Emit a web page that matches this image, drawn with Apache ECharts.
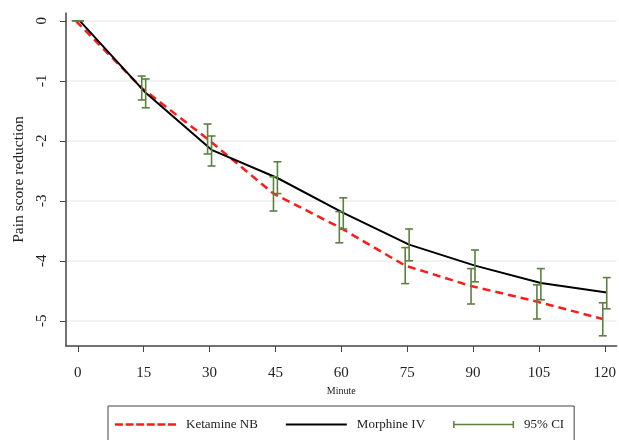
<!DOCTYPE html>
<html>
<head>
<meta charset="utf-8">
<script src="https://cdn.jsdelivr.net/npm/echarts@6/dist/echarts.min.js"></script>
<style>html,body{margin:0;padding:0;background:#fff}#c{width:619px;height:440px}</style>
</head>
<body>
<div id="c"></div>
<script>
const minutes = [0, 15, 30, 45, 60, 75, 90, 105, 120];
const ketamine = [0, -1.12, -1.97, -2.88, -3.44, -4.08, -4.42, -4.68, -4.97];
const ketamineLo = [0, -1.32, -2.22, -3.17, -3.70, -4.38, -4.72, -4.97, -5.25];
const ketamineHi = [0, -0.92, -1.72, -2.60, -3.18, -3.78, -4.13, -4.40, -4.70];
const morphine = [0, -1.20, -2.15, -2.62, -3.20, -3.73, -4.08, -4.37, -4.53];
const morphineLo = [0, -1.45, -2.42, -2.88, -3.47, -4.00, -4.35, -4.65, -4.80];
const morphineHi = [0, -0.97, -1.92, -2.35, -2.95, -3.47, -3.82, -4.13, -4.28];
const xTicks = [0, 15, 30, 45, 60, 75, 90, 105, 120];
const yTicks = [0, -1, -2, -3, -4, -5];

const KET_OFF = -0.45, MOR_OFF = 0.45;
const ketData = minutes.map((m, i) => [m + KET_OFF, ketamine[i]]);
const morData = minutes.map((m, i) => [m + MOR_OFF, morphine[i]]);
const ciData = minutes.map((m, i) => [m + KET_OFF, ketamineLo[i], ketamineHi[i]])
  .concat(minutes.map((m, i) => [m + MOR_OFF, morphineLo[i], morphineHi[i]]));

const GREEN = '#5b8040';
const RED = '#ff1a1a';
const FONT = 'Liberation Serif';

const chart = echarts.init(document.getElementById('c'), null, {renderer: 'canvas'});
chart.setOption({
  animation: false,
  backgroundColor: '#fff',
  grid: {left: 66, right: 1, top: 13, bottom: 94},
  xAxis: {
    type: 'value', min: -2.7, max: 122.7,
    name: 'Minute', nameLocation: 'middle', nameGap: 37,
    nameTextStyle: {fontFamily: FONT, fontSize: 10, color: '#222'},
    axisLine: {show: true, onZero: false, lineStyle: {color: '#444', width: 1.5}},
    axisTick: {show: true, length: 6, customValues: xTicks, lineStyle: {color: '#444', width: 1}},
    axisLabel: {customValues: xTicks, margin: 20, fontFamily: FONT, fontSize: 15, color: '#222'},
    splitLine: {show: false}
  },
  yAxis: {
    type: 'value', min: -5.42, max: 0.13,
    name: 'Pain score reduction', nameLocation: 'middle', nameGap: 38,
    nameTextStyle: {fontFamily: FONT, fontSize: 15.5, color: '#222'},
    axisLine: {show: true, onZero: false, lineStyle: {color: '#444', width: 1.5}},
    axisTick: {show: true, length: 6, customValues: yTicks, lineStyle: {color: '#444', width: 1}},
    axisLabel: {customValues: yTicks, rotate: 90, margin: 16, fontFamily: FONT, fontSize: 15, color: '#222'},
    splitLine: {show: true, customValues: yTicks, lineStyle: {color: '#eeeeee', width: 1.5}}
  },
  legend: {
    left: 108, top: 406,
    orient: 'horizontal',
    padding: [12, 10, 30, 7],
    borderColor: '#444', borderWidth: 1,
    itemWidth: 61, itemHeight: 14, itemGap: 28,
    textStyle: {fontFamily: FONT, fontSize: 13, color: '#222', padding: [0, 0, 0, 5]},
    data: [
      {name: 'Ketamine NB', icon: 'path://M0,0h8v2.6h-8z M10.6,0h8v2.6h-8z M21.2,0h8v2.6h-8z M31.8,0h8v2.6h-8z M42.4,0h8v2.6h-8z M53,0h8v2.6h-8z'},
      {name: 'Morphine IV', icon: 'path://M0,0h61v2.2h-61z'},
      {name: '95% CI', icon: 'path://M0,0h1.5v7h-1.5z M0,2.8h61v1.4h-61z M59.5,0h1.5v7h-1.5z'}
    ]
  },
  series: [
    {
      name: 'Ketamine NB', type: 'line', data: ketData, symbol: 'none', z: 3,
      lineStyle: {color: RED, width: 2.5, type: [8, 5]},
      itemStyle: {color: RED}
    },
    {
      name: 'Morphine IV', type: 'line', data: morData, symbol: 'none', z: 4,
      lineStyle: {color: '#000', width: 2},
      itemStyle: {color: '#000'}
    },
    {
      name: '95% CI', type: 'custom', data: ciData, z: 5,
      encode: {x: 0, y: [1, 2]},
      itemStyle: {color: GREEN},
      renderItem: function (params, api) {
        const x = api.value(0);
        const lo = api.coord([x, api.value(1)]);
        const hi = api.coord([x, api.value(2)]);
        const hw = 4;
        const style = {stroke: GREEN, lineWidth: 1.6, fill: 'none'};
        return {
          type: 'group',
          children: [
            {type: 'line', shape: {x1: lo[0], y1: lo[1], x2: hi[0], y2: hi[1]}, style: style},
            {type: 'line', shape: {x1: lo[0] - hw, y1: lo[1], x2: lo[0] + hw, y2: lo[1]}, style: style},
            {type: 'line', shape: {x1: hi[0] - hw, y1: hi[1], x2: hi[0] + hw, y2: hi[1]}, style: style}
          ]
        };
      }
    }
  ]
});
</script>
</body>
</html>
